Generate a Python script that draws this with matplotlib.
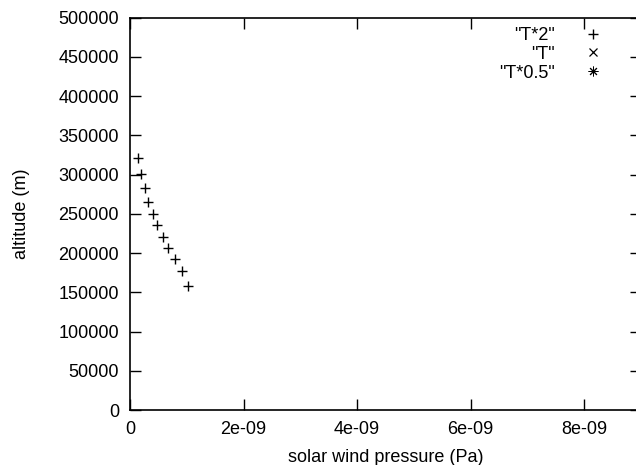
import matplotlib
matplotlib.use("Agg")
import matplotlib.pyplot as plt
import numpy as np

plt.rcParams['font.family'] = ['Liberation Sans', 'DejaVu Sans']
plt.rcParams['font.size'] = 13

# solar wind pressure (Pa) vs altitude (m)
pressure_t2 = [0.141e-9, 0.194e-9, 0.259e-9, 0.317e-9, 0.400e-9, 0.481e-9,
               0.581e-9, 0.670e-9, 0.788e-9, 0.911e-9, 1.022e-9]
altitude_t2 = [321800, 300600, 282800, 264900, 250000, 236000,
               220700, 206300, 192200, 177700, 158200]
pressure_t = []
altitude_t = []
pressure_t05 = []
altitude_t05 = []

series_labels = ['"T*2"', '"T"', '"T*0.5"']
xticks = [0, 2e-9, 4e-9, 6e-9, 8e-9]
xtick_labels = ['0', '2e-09', '4e-09', '6e-09', '8e-09']
yticks = np.arange(0, 500001, 50000)

fig = plt.figure(figsize=(6.36, 4.65), dpi=100)
ax = fig.add_axes([130 / 636, 55 / 465, 511 / 636, 392.3 / 465])

ax.plot(pressure_t2, altitude_t2, linestyle='none', marker='+', color='black',
        markersize=7, markeredgewidth=1.0, label=series_labels[0])
ax.plot(pressure_t, altitude_t, linestyle='none', marker='x', color='black',
        markersize=6, markeredgewidth=0.9, label=series_labels[1])
ax.plot(pressure_t05, altitude_t05, linestyle='none', marker=(8, 2, 0), color='black',
        markersize=7, markeredgewidth=0.7, label=series_labels[2])

ax.set_xlim(0, 9e-9)
ax.set_ylim(0, 500000)
ax.set_xticks(xticks)
ax.set_xticklabels(xtick_labels)
ax.set_yticks(yticks)
ax.set_yticklabels([str(v) for v in yticks])

ax.tick_params(direction='in', length=8, width=1, top=True, right=True,
               labelsize=13, pad=8)
for sp in ax.spines.values():
    sp.set_linewidth(1.2)

ax.set_xlabel('solar wind pressure (Pa)', fontsize=13, labelpad=8)
ax.set_ylabel('altitude (m)', fontsize=13, labelpad=20)

ax.legend(loc='upper right', bbox_to_anchor=(613 / 636, 1 - 27 / 465),
          bbox_transform=fig.transFigure, markerfirst=False, frameon=False,
          handlelength=2.2, handletextpad=1.0, labelspacing=0.1,
          borderpad=0, borderaxespad=0, fontsize=13)

fig.savefig('out.png', dpi=100)
